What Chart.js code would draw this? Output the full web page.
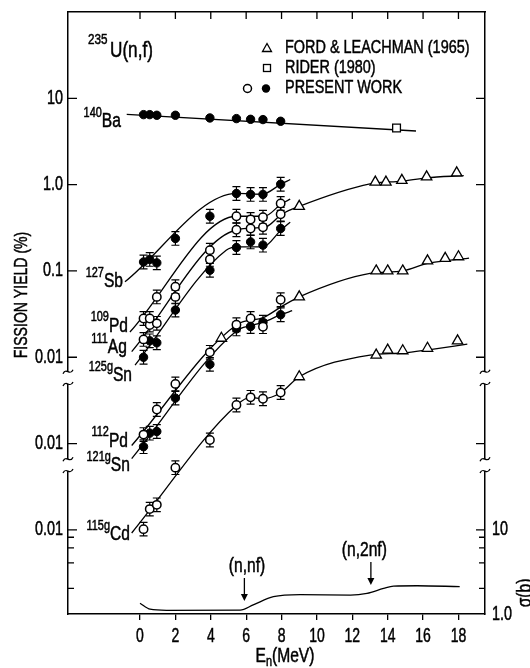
<!DOCTYPE html>
<html>
<head>
<meta charset="utf-8">
<script src="https://cdn.jsdelivr.net/npm/chart.js@4.4.1/dist/chart.umd.min.js"></script>
<style>
  html, body { margin: 0; padding: 0; background: #fff; }
  #wrap { width: 530px; height: 668px; }
</style>
</head>
<body>
<div id="wrap"><canvas id="chart" width="530" height="668"></canvas></div>
<script>
// neutron energies of the present work (MeV)
const energies = [0.2, 0.55, 0.95, 2.0, 3.95, 5.45, 6.25, 6.95, 7.95];

// fission yields (%), upper block
const ba140 = [6.47, 6.47, 6.36, 6.36, 5.92, 5.82, 5.71, 5.67, 5.42];
const sb127 = [0.127, 0.136, 0.124, 0.238, 0.43, 0.79, 0.77, 0.77, 1.01];
const pd109 = [0.0281, 0.0281, 0.050, 0.0655, 0.174, 0.43, 0.394, 0.42, 0.605];
const ag111 = [0.0161, 0.0236, 0.0247, 0.050, 0.136, 0.30, 0.31, 0.321, 0.454];
const sn125g = [0.0100, 0.0155, 0.0147, 0.0352, 0.102, 0.187, 0.217, 0.199, 0.31];
// middle block
const pd112 = [0.0127, null, 0.0248, 0.0491, 0.114, 0.238, 0.282, 0.226, 0.464];
const sn121g = [0.0092, 0.0132, 0.0138, 0.0336, 0.0827, 0.213, 0.227, 0.254, 0.311];
// lower block
const cd115g = [0.0102, 0.0174, 0.0195, 0.0526, 0.110, 0.280, 0.343, 0.33, 0.39];

// Ford & Leachman (1965)
const fordE1 = [9.0, 13.3, 13.9, 14.8, 16.2, 17.9];
const fordY1 = [0.56, 1.07, 1.07, 1.12, 1.23, 1.37];
const fordE2 = [4.6, 9.0, 13.35, 14.0, 14.85, 16.25, 17.25, 18.0];
const fordY2 = [0.166, 0.50, 1.0, 1.0, 1.0, 1.31, 1.40, 1.46];
const fordE3 = [9.0, 13.35, 14.0, 14.85, 16.25, 17.95];
const fordY3 = [0.594, 1.06, 1.21, 1.19, 1.27, 1.55];
// Rider (1980)
const riderE = [14.5];
const riderY = [4.53];

// drawn curves [E, yield]
const fitBa = [[-0.75, 6.53], [15.6, 4.18]];
const fitSb = [[-0.85, 0.0748], [5.47, 0.79], [6.9, 0.774], [7.96, 1.01], [8.49, 1.146]];
const fitPd109 = [[-0.57, 0.0196], [5.47, 0.43], [7.02, 0.43], [8.02, 0.604], [8.49, 0.678]];
const fitAg111 = [[-0.47, 0.0116], [5.47, 0.30], [7.07, 0.321], [8.02, 0.454], [9.0, 0.56], [13.0, 1.02], [14.8, 1.1], [16.2, 1.2], [18.3, 1.27]];
const fitSn125 = [[-0.28, 0.0081], [4.87, 0.174], [5.6, 0.19], [6.95, 0.19], [7.96, 0.296], [8.49, 0.367]];
const fitPd112 = [[-0.47, 0.0095], [5.47, 0.238], [7.0, 0.29], [8.0, 0.386], [9.0, 0.50], [13.0, 0.935], [14.85, 1.0], [16.25, 1.22], [17.3, 1.31], [18.6, 1.41]];
const fitSn121 = [[-0.47, 0.0067], [5.47, 0.203], [6.25, 0.232], [6.96, 0.254], [7.96, 0.311], [8.6, 0.346]];
const fitCd115 = [[-0.47, 0.0092], [5.47, 0.28], [6.25, 0.343], [6.95, 0.33], [7.95, 0.388], [9.0, 0.594], [13.0, 1.06], [14.9, 1.12], [16.3, 1.22], [18.5, 1.42]];

// fission cross section sigma (b)
const sigmaE = [0.0, 0.57, 1.5, 5.66, 6.4, 7.54, 9.05, 11.9, 12.83, 13.77, 14.33, 15.66, 18.07];
const sigmaB = [1.34, 1.14, 1.105, 1.11, 1.28, 1.60, 1.69, 1.67, 1.75, 2.0, 2.13, 2.15, 2.10];

// axes
const xTicks = [0, 2, 4, 6, 8, 10, 12, 14, 16, 18];
const yTicks = [0.0001, 0.001, 0.01, 0.1, 1, 10];
const yTickLabels = ['0.01', '0.01', '0.01', '0.1', '1.0', '10'];
const sigmaTicks = [1, 10];
const sigmaTickLabels = ['1.0', '10'];
const sigmaMinor = [2, 4, 6, 8];
// decade shift of each block on the broken axis
const upper = 1, middle = 0.1, lower = 0.01;
const axisBreaks = [[0.0068, 0.0049], [0.00066, 0.00048]];

const isotopeLabels = [
    { sup: '140', main: 'Ba', e: -1.08, y: 5.42, k: upper },
    { sup: '127', main: 'Sb', e: -0.96, y: 0.0762, k: upper },
    { sup: '109', main: 'Pd', e: -0.68, y: 0.023, k: upper },
    { sup: '111', main: 'Ag', e: -0.74, y: 0.0131, k: upper },
    { sup: '125g', main: 'Sn', e: -0.45, y: 0.00622, k: upper },
    { sup: '112', main: 'Pd', e: -0.68, y: 0.0107, k: middle },
    { sup: '121g', main: 'Sn', e: -0.57, y: 0.0055, k: middle },
    { sup: '115g', main: 'Cd', e: -0.57, y: 0.00875, k: lower },
];
const arrows = [
    { text: '(n,nf)', e: 5.9, textE: 6.05, textS: 3.67, tail: 2.65, tip: 1.42 },
    { text: '(n,2nf)', e: 13.05, textE: 12.68, textS: 5.66, tail: 4.09, tip: 2.19 },
];

// lettering on the original is tall and narrow
const FONT = '"Liberation Sans", Arial, sans-serif';
const SQUEEZE = 0.78;

function toPoints(xs, ys, k) {
    return xs.map((e, i) => ({ x: e, y: ys[i] == null ? null : ys[i] * k }));
}
function fitPoints(pairs, k) {
    return pairs.map(([e, v]) => ({ x: e, y: v * k }));
}

const filled = { pointStyle: 'circle', pointRadius: 4.2, pointBackgroundColor: '#000', pointBorderColor: '#000', pointBorderWidth: 1, order: 0 };
const open = { pointStyle: 'circle', pointRadius: 4.2, pointBackgroundColor: '#fff', pointBorderColor: '#000', pointBorderWidth: 1.5, order: 0 };
const tri = { pointStyle: 'triangle', pointRadius: 6, pointBackgroundColor: '#fff', pointBorderColor: '#000', pointBorderWidth: 1.3, order: 0 };
const square = { pointStyle: 'rect', pointRadius: 5.5, pointBackgroundColor: '#fff', pointBorderColor: '#000', pointBorderWidth: 1.3, order: 0 };
const curve = { showLine: true, pointRadius: 0, borderColor: '#000', borderWidth: 1.3, cubicInterpolationMode: 'monotone', order: 1 };

const datasets = [
    { ...filled, data: toPoints(energies, ba140, upper) },
    { ...filled, data: toPoints(energies, sb127, upper), errFactor: 1.2 },
    { ...open, data: toPoints(energies, pd109, upper), errFactor: 1.2 },
    { ...open, data: toPoints(energies, ag111, upper), errFactor: 1.2 },
    { ...filled, data: toPoints(energies, sn125g, upper), errFactor: 1.2 },
    { ...open, data: toPoints(energies, pd112, middle), errFactor: 1.2 },
    { ...filled, data: toPoints(energies, sn121g, middle), errFactor: 1.2 },
    { ...open, data: toPoints(energies, cd115g, lower), errFactor: 1.2 },
    { ...tri, data: toPoints(fordE1, fordY1, upper) },
    { ...tri, data: toPoints(fordE2, fordY2, middle) },
    { ...tri, data: toPoints(fordE3, fordY3, lower) },
    { ...square, data: toPoints(riderE, riderY, upper) },
    { ...curve, data: fitPoints(fitBa, upper) },
    { ...curve, data: fitPoints(fitSb, upper) },
    { ...curve, data: fitPoints(fitPd109, upper) },
    { ...curve, data: fitPoints(fitAg111, upper) },
    { ...curve, data: fitPoints(fitSn125, upper) },
    { ...curve, data: fitPoints(fitPd112, middle) },
    { ...curve, data: fitPoints(fitSn121, middle) },
    { ...curve, data: fitPoints(fitCd115, lower) },
    { ...curve, yAxisID: 'y2', data: toPoints(sigmaE, sigmaB, 1) },
];

// condensed text helpers
function textWidth(ctx, s, size, sq = SQUEEZE) {
    ctx.font = `${size}px ${FONT}`;
    return ctx.measureText(s).width * sq;
}
function text(ctx, s, x, y, size, align = 'left', sq = SQUEEZE) {
    ctx.save();
    ctx.font = `${size}px ${FONT}`;
    ctx.textAlign = align;
    ctx.textBaseline = 'middle';
    ctx.translate(x, y);
    ctx.scale(sq, 1);
    ctx.lineWidth = 0.5;
    ctx.strokeStyle = '#000';
    ctx.fillText(s, 0, 0);
    ctx.strokeText(s, 0, 0);
    ctx.restore();
}
function supText(ctx, sup, main, xRight, yMid, supSize, mainSize) {
    const wm = textWidth(ctx, main, mainSize);
    const ws = textWidth(ctx, sup, supSize);
    const x0 = xRight - wm - ws;
    text(ctx, sup, x0, yMid - mainSize * 0.42, supSize);
    text(ctx, main, x0 + ws, yMid, mainSize);
}

const decor = {
    id: 'decor',
    beforeDatasetsDraw(chart) {
        // error bars
        const ctx = chart.ctx;
        const y = chart.scales.y;
        ctx.save();
        ctx.strokeStyle = '#000';
        ctx.lineWidth = 1.2;
        chart.data.datasets.forEach((ds, i) => {
            if (!ds.errFactor) return;
            chart.getDatasetMeta(i).data.forEach((pt, j) => {
                const v = ds.data[j].y;
                if (v == null) return;
                const top = y.getPixelForValue(v * ds.errFactor);
                const bot = y.getPixelForValue(v / ds.errFactor);
                ctx.beginPath();
                ctx.moveTo(pt.x, top); ctx.lineTo(pt.x, bot);
                ctx.moveTo(pt.x - 4, top); ctx.lineTo(pt.x + 4, top);
                ctx.moveTo(pt.x - 4, bot); ctx.lineTo(pt.x + 4, bot);
                ctx.stroke();
            });
        });
        ctx.restore();
    },
    afterDraw(chart) {
        const { ctx, chartArea: ca, scales } = chart;
        const x = scales.x, y = scales.y, y2 = scales.y2;
        ctx.save();
        ctx.strokeStyle = '#000';
        ctx.fillStyle = '#000';
        ctx.lineWidth = 1.3;

        // inward ticks
        ctx.beginPath();
        yTicks.forEach(v => {
            const p = y.getPixelForValue(v);
            ctx.moveTo(ca.left, p); ctx.lineTo(ca.left + 9, p);
            ctx.moveTo(ca.right, p); ctx.lineTo(ca.right - 9, p);
        });
        sigmaMinor.forEach(v => {
            const p = y2.getPixelForValue(v);
            ctx.moveTo(ca.left, p); ctx.lineTo(ca.left + 6, p);
            ctx.moveTo(ca.right, p); ctx.lineTo(ca.right - 6, p);
        });
        xTicks.forEach(v => {
            const p = x.getPixelForValue(v);
            ctx.moveTo(p, ca.top); ctx.lineTo(p, ca.top + 7);
        });
        ctx.stroke();

        // axis breaks
        axisBreaks.forEach(([hi, lo]) => {
            const p1 = y.getPixelForValue(hi), p2 = y.getPixelForValue(lo);
            [ca.left, ca.right].forEach(ax => {
                ctx.fillStyle = '#fff';
                ctx.fillRect(ax - 3, p1, 6, p2 - p1);
                ctx.beginPath();
                [p1, p2].forEach(p => {
                    ctx.moveTo(ax - 5, p + 2);
                    ctx.bezierCurveTo(ax - 2, p - 5, ax + 2, p + 5, ax + 5, p - 2);
                });
                ctx.stroke();
            });
        });
        ctx.fillStyle = '#000';

        // tick labels
        xTicks.forEach(v => text(ctx, String(v), x.getPixelForValue(v), 636, 20, 'center', 0.7));
        yTicks.forEach((v, i) => text(ctx, yTickLabels[i], ca.left - 5, y.getPixelForValue(v), 20, 'right', 0.72));
        sigmaTicks.forEach((v, i) => text(ctx, sigmaTickLabels[i], ca.right + 7, y2.getPixelForValue(v), 20, 'left', 0.72));

        // isotope labels
        isotopeLabels.forEach(l => {
            supText(ctx, l.sup, l.main, x.getPixelForValue(l.e), y.getPixelForValue(l.y * l.k), 14, 20);
        });

        // reaction title
        text(ctx, '235', 88, 40, 15);
        text(ctx, 'U(n,f)', 110, 51, 22);

        // legend
        ctx.lineWidth = 1.3;
        ctx.beginPath();
        ctx.moveTo(267, 43.5); ctx.lineTo(271.5, 51.5); ctx.lineTo(262.5, 51.5); ctx.closePath();
        ctx.stroke();
        ctx.strokeRect(263.5, 64.5, 7, 7);
        ctx.beginPath(); ctx.arc(247.5, 88.5, 4, 0, Math.PI * 2); ctx.lineWidth = 1.5; ctx.stroke();
        ctx.beginPath(); ctx.arc(266, 88.5, 4.2, 0, Math.PI * 2); ctx.fill();
        text(ctx, 'FORD & LEACHMAN (1965)', 285, 48, 19, 'left', 0.76);
        text(ctx, 'RIDER (1980)', 285, 68, 19, 'left', 0.76);
        text(ctx, 'PRESENT WORK', 285, 88, 19, 'left', 0.76);

        // threshold arrows
        ctx.lineWidth = 1.3;
        arrows.forEach(a => {
            const px = x.getPixelForValue(a.e);
            const t = y2.getPixelForValue(a.tail), h = y2.getPixelForValue(a.tip);
            ctx.beginPath();
            ctx.moveTo(px, t); ctx.lineTo(px, h - 5);
            ctx.stroke();
            ctx.beginPath();
            ctx.moveTo(px - 3.5, h - 7); ctx.lineTo(px + 3.5, h - 7); ctx.lineTo(px, h); ctx.closePath();
            ctx.fill();
            text(ctx, a.text, x.getPixelForValue(a.textE), y2.getPixelForValue(a.textS), 20, 'center');
        });

        // axis titles
        const wE = textWidth(ctx, 'E', 20);
        const wN = textWidth(ctx, 'n', 14);
        const wM = textWidth(ctx, '(MeV)', 20);
        const tx = 285 - (wE + wN + wM) / 2;
        text(ctx, 'E', tx, 656, 20);
        text(ctx, 'n', tx + wE, 662, 14);
        text(ctx, '(MeV)', tx + wE + wN, 656, 20);

        ctx.save();
        ctx.translate(22, 295);
        ctx.rotate(-Math.PI / 2);
        text(ctx, 'FISSION YIELD (%)', 0, 0, 19, 'center', 0.74);
        ctx.restore();
        ctx.save();
        ctx.translate(525, 593);
        ctx.rotate(-Math.PI / 2);
        text(ctx, '\u03c3(b)', 0, 0, 20, 'center');
        ctx.restore();

        ctx.restore();
    }
};

new Chart(document.getElementById('chart'), {
    type: 'scatter',
    data: { datasets },
    options: {
        responsive: false,
        animation: false,
        layout: { padding: 0 },
        plugins: { legend: { display: false }, tooltip: { enabled: false } },
        scales: {
            x: {
                type: 'linear', position: 'bottom', min: -4.07, max: 19.5,
                afterBuildTicks: s => { s.ticks = xTicks.map(v => ({ value: v })); },
                afterFit: s => { s.height = 54; },
                ticks: { display: false },
                grid: { drawOnChartArea: false, drawTicks: true, tickLength: 6, color: '#000', lineWidth: 1.3 },
                border: { display: true, color: '#000', width: 1.5 },
            },
            xTop: {
                type: 'linear', position: 'top', min: -4.07, max: 19.5,
                afterFit: s => { s.height = 12; },
                ticks: { display: false },
                grid: { drawOnChartArea: false, drawTicks: false },
                border: { display: true, color: '#000', width: 1.5 },
            },
            y: {
                type: 'logarithmic', position: 'left', min: 1.06e-5, max: 100,
                afterBuildTicks: s => { s.ticks = yTicks.map(v => ({ value: v })); },
                afterFit: s => { s.width = 68; },
                ticks: { display: false },
                grid: { drawOnChartArea: false, drawTicks: false },
                border: { display: true, color: '#000', width: 1.5 },
            },
            y2: {
                type: 'logarithmic', position: 'right', min: 1, max: Math.pow(10, 602 / 85),
                afterBuildTicks: s => { s.ticks = sigmaTicks.map(v => ({ value: v })); },
                afterFit: s => { s.width = 45; },
                ticks: { display: false },
                grid: { drawOnChartArea: false, drawTicks: false },
                border: { display: true, color: '#000', width: 1.5 },
            },
        },
    },
    plugins: [decor],
});
</script>
</body>
</html>
